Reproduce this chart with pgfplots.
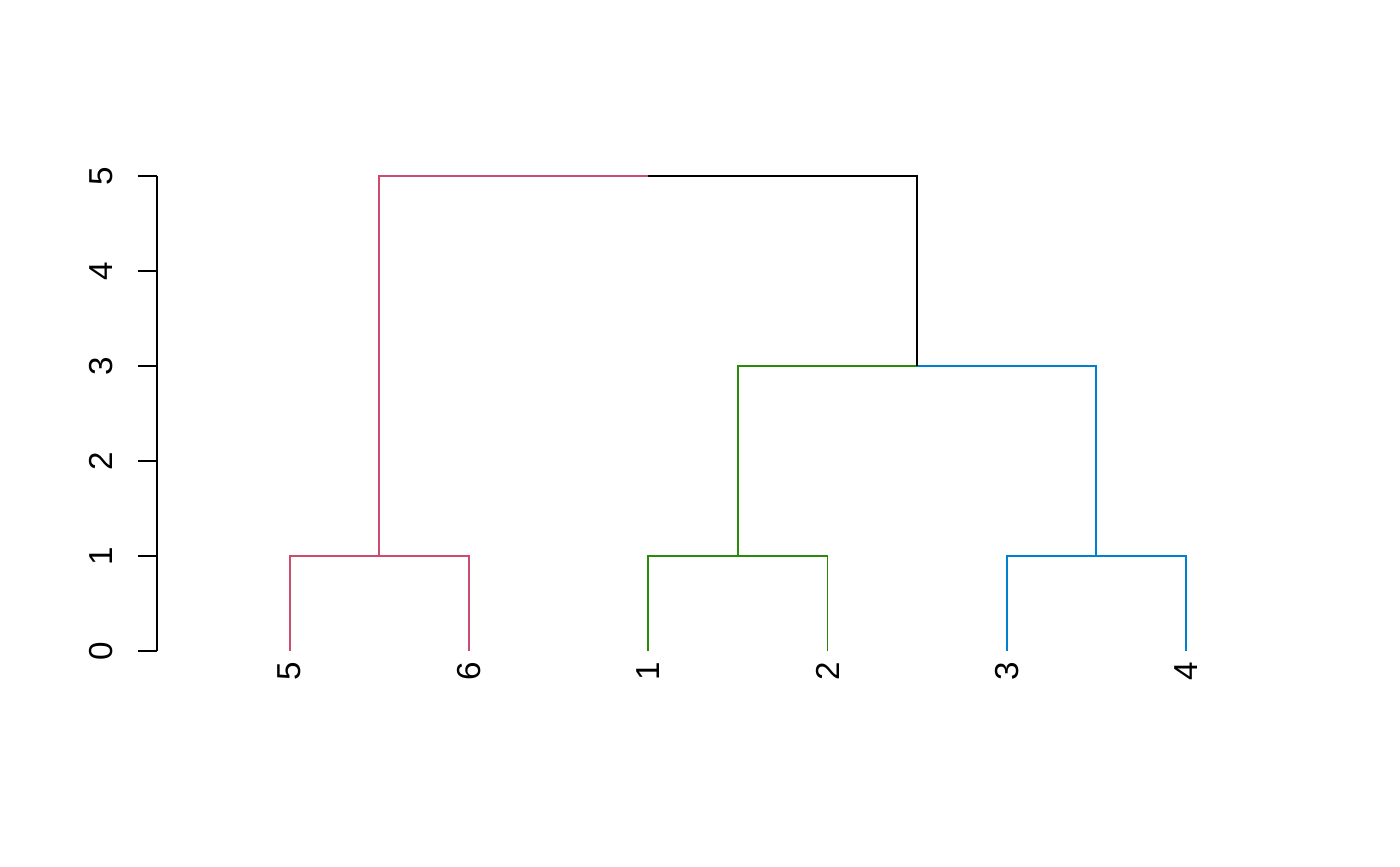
\documentclass[border=0pt]{standalone}
\usepackage{pgfplots}
\pgfplotsset{compat=1.18}
\usepackage{fontspec}
\setmainfont{Liberation Sans}
\definecolor{dpink}{RGB}{205,75,110}
\definecolor{dgreen}{RGB}{40,140,10}
\definecolor{dblue}{RGB}{0,128,208}
\begin{document}
\fontsize{16.6}{20}\selectfont
\begin{tikzpicture}
\path[use as bounding box] (0,0) rectangle (700pt,433pt);
\begin{axis}[
  at={(78.5pt,107.5pt)}, anchor=south west,
  scale only axis, width=580.8pt, height=237.5pt,
  xmin=0.26, xmax=6.74, ymin=0, ymax=5,
  clip=false,
  axis y line=left, axis x line=bottom,
  x axis line style={draw=none},
  y axis line style={-, line width=0.85pt},
  major x tick style={draw=none},
  ytick={0,1,2,3,4,5},
  ytick style={line width=0.85pt, black},
  tick align=outside, major tick length=9.5pt,
  xtick={1,2,3,4,5,6},
  xticklabels={5,6,1,2,3,4},
  /pgf/number format/assume math mode=true,
  ticklabel style={font=\fontsize{16.6}{20}\selectfont},
  yticklabel style={rotate=90, anchor=base, inner sep=0pt},
  xticklabel style={rotate=90, anchor=east, inner sep=0pt},
  yticklabel shift=13pt,
  xticklabel shift=-4.5pt,
  line width=0.85pt,
]
\addplot[dpink, line width=0.85pt] coordinates {(1,0) (1,1) (2,1) (2,0)};
\addplot[dpink, line width=0.85pt] coordinates {(1.5,1) (1.5,5) (3,5)};
\addplot[dgreen, line width=0.85pt] coordinates {(3,0) (3,1) (4,1) (4,0)};
\addplot[dgreen, line width=0.85pt] coordinates {(3.5,1) (3.5,3) (4.5,3)};
\addplot[dblue, line width=0.85pt] coordinates {(5,0) (5,1) (6,1) (6,0)};
\addplot[dblue, line width=0.85pt] coordinates {(5.5,1) (5.5,3) (4.5,3)};
\addplot[black, line width=0.85pt] coordinates {(3,5) (4.5,5) (4.5,3)};
\end{axis}
\end{tikzpicture}
\end{document}
